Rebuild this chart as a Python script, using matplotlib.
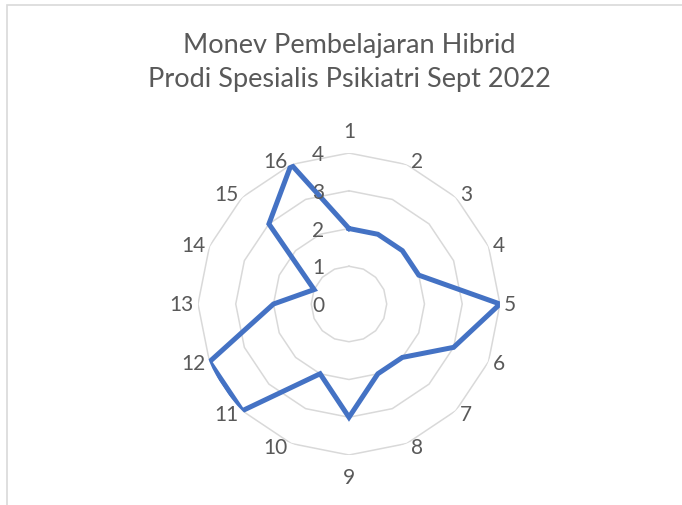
import numpy as np
import matplotlib.pyplot as plt
import matplotlib.patches as patches

plt.rcParams['font.family'] = ['Lato', 'DejaVu Sans']

# data
categories = [str(i) for i in range(1, 17)]
values = [2, 2, 2, 2, 4, 3, 2, 2, 3, 2, 4, 4, 2, 1, 3, 4]
rings = [1, 2, 3, 4]
ring_labels = ['0', '1', '2', '3', '4']
title_lines = ['Monev Pembelajaran Hibrid', 'Prodi Spesialis Psikiatri Sept 2022']

grey_txt = '#595959'
grid_col = '#D9D9D9'
line_col = '#4472C4'

fig = plt.figure(figsize=(6.82, 5.06), dpi=100)
fig.patch.set_facecolor('white')

# chart border (only left/top visible in the crop)
border = patches.Rectangle((7 / 682, -0.1), 1.1, (506 - 6) / 506 + 0.1, transform=fig.transFigure,
                           fill=False, ec=grid_col, lw=1.2)
fig.add_artist(border)

ax = fig.add_axes([0.2903, 0.0988, 0.4428, 0.5968], projection='polar')
ax.set_theta_zero_location('N')
ax.set_theta_direction(-1)
ax.set_ylim(0, 4)
ax.grid(False)
ax.spines['polar'].set_visible(False)
ax.set_xticks([])
ax.set_yticks([])
ax.patch.set_alpha(0)

n = len(categories)
angles = np.arange(n) * 2 * np.pi / n
ang_closed = np.append(angles, angles[0])

# polygon grid rings
for r in rings:
    ax.plot(ang_closed, [r] * (n + 1), color=grid_col, lw=1.1, zorder=1)

vals_closed = values + values[:1]
ax.plot(ang_closed, vals_closed, color=line_col, lw=3.6, solid_joinstyle='miter', zorder=3)

# category labels, placed next to the outer ring vertex like excel does
rmax = rings[-1]
for a, lab in zip(angles, categories):
    s, c = np.sin(a), np.cos(a)
    if abs(s) < 0.01:
        ax.annotate(lab, xy=(a, rmax), xytext=(0, 22 * c), textcoords='offset pixels',
                    ha='center', va='center', fontsize=15, color=grey_txt, annotation_clip=False)
    else:
        ha = 'left' if s > 0 else 'right'
        ax.annotate(lab, xy=(a, rmax), xytext=(4 * np.sign(s), 4 * c), textcoords='offset pixels',
                    ha=ha, va='center', fontsize=15, color=grey_txt, annotation_clip=False)

# value axis labels along first spoke, shifted left
for i, lab in enumerate(ring_labels):
    ax.annotate(lab, xy=(0, i), xytext=(-31, -1), textcoords='offset pixels', ha='center', va='center',
                fontsize=15, color=grey_txt, annotation_clip=False, zorder=4)

fig.text(349 / 682, 1 - 45 / 506, title_lines[0], ha='center', va='center', fontsize=19.5, color=grey_txt)
fig.text(349 / 682, 1 - 80 / 506, title_lines[1], ha='center', va='center', fontsize=19.5, color=grey_txt)

fig.savefig('out.png', dpi=100)
